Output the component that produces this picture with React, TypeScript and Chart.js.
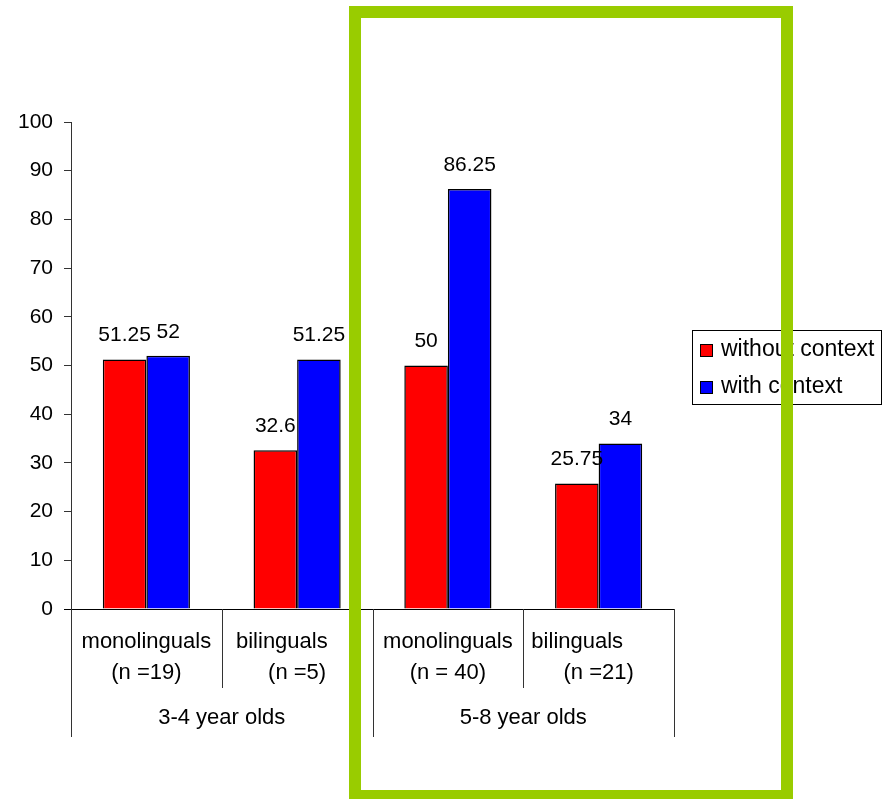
import React, { useEffect, useRef } from "react";
import { Chart, registerables } from "chart.js";

Chart.register(...registerables);

const categories: string[][] = [
  ["monolinguals", "(n =19)"],
  ["bilinguals     ", "(n =5)"],
  ["monolinguals", "(n = 40)"],
  ["bilinguals       ", "(n =21)"],
];
const groups = ["3-4 year olds", "5-8 year olds"];
const withoutContext = [51.25, 32.6, 50, 25.75];
const withContext = [52, 51.25, 86.25, 34];
const seriesNames = ["without context", "with context"];
const seriesColors = ["#FF0000", "#0000FF"];

const FONT = '"Liberation Sans", Arial, sans-serif';

const overlayPlugin = {
  id: "overlay",
  afterDraw(chart: any) {
    const ctx = chart.ctx;
    const { left, right, bottom } = chart.chartArea;
    const xs = chart.scales.x;
    ctx.save();
    // data labels
    ctx.fillStyle = "#000";
    ctx.font = `21px ${FONT}`;
    ctx.textAlign = "center";
    ctx.textBaseline = "middle";
    chart.data.datasets.forEach((ds: any, i: number) => {
      const meta = chart.getDatasetMeta(i);
      meta.data.forEach((bar: any, j: number) => {
        ctx.fillText(String(ds.data[j]), bar.x, bar.y - 24);
      });
    });
    // x axis line
    ctx.strokeStyle = "#000";
    ctx.lineWidth = 1;
    ctx.beginPath();
    ctx.moveTo(left - 7, Math.round(bottom) + 0.5);
    ctx.lineTo(right, Math.round(bottom) + 0.5);
    ctx.stroke();
    // dividers
    const n = categories.length;
    const w = (right - left) / n;
    ctx.strokeStyle = "#333";
    for (let i = 0; i <= n; i++) {
      const x = Math.round(left + i * w) + 0.5;
      const len = i % 2 === 0 ? 128 : 79;
      ctx.beginPath();
      ctx.moveTo(x, bottom);
      ctx.lineTo(x, bottom + len);
      ctx.stroke();
    }
    // category labels
    ctx.fillStyle = "#000";
    ctx.font = `22px ${FONT}`;
    categories.forEach((lines, j) => {
      const x = xs.getPixelForValue(j);
      lines.forEach((t, k) => {
        ctx.fillText(t, x, bottom + 33 + k * 31);
      });
    });
    // group labels
    groups.forEach((g, gi) => {
      const x = left + (gi * 2 + 1) * w;
      ctx.fillText(g, x, bottom + 109);
    });
    // legend
    const lx = 692, ly = 330, lw = 189, lh = 74;
    ctx.strokeStyle = "#000";
    ctx.strokeRect(lx + 0.5, ly + 0.5, lw, lh);
    ctx.textAlign = "left";
    ctx.font = `23px ${FONT}`;
    seriesNames.forEach((name, i) => {
      const cy = ly + 20 + i * 37;
      ctx.fillStyle = seriesColors[i];
      ctx.fillRect(lx + 8, cy - 6, 12, 12);
      ctx.strokeStyle = "#000";
      ctx.strokeRect(lx + 8.5, cy - 5.5, 12, 12);
      ctx.fillStyle = "#000";
      ctx.fillText(name, lx + 29, cy);
    });
    // green highlight rectangle
    ctx.fillStyle = "#99CC00";
    ctx.fillRect(349, 6, 12, 796);
    ctx.fillRect(781, 6, 12, 796);
    ctx.fillRect(349, 6, 444, 12);
    ctx.fillRect(349, 790, 444, 12);
    ctx.restore();
  },
};

export default function App() {
  const ref = useRef<HTMLCanvasElement | null>(null);
  useEffect(() => {
    if (!ref.current) return;
    const chart = new Chart(ref.current, {
      type: "bar",
      data: {
        labels: categories.map((c) => c.join(" ")),
        datasets: [
          {
            label: seriesNames[0],
            data: withoutContext,
            backgroundColor: seriesColors[0],
            borderColor: "#000",
            borderWidth: 1.5,
          },
          {
            label: seriesNames[1],
            data: withContext,
            backgroundColor: seriesColors[1],
            borderColor: "#000",
            borderWidth: 1.5,
          },
        ],
      },
      options: {
        responsive: false,
        animation: false,
        layout: { padding: { left: 0, top: 122, right: 215, bottom: 190 } },
        plugins: {
          legend: { display: false },
          tooltip: { enabled: false },
        },
        datasets: {
          bar: { categoryPercentage: 0.578, barPercentage: 1 },
        },
        scales: {
          x: { display: false },
          y: {
            min: 0,
            max: 100,
            ticks: {
              stepSize: 10,
              color: "#000",
              padding: 11,
              font: { family: FONT, size: 21 },
            },
            grid: {
              drawOnChartArea: false,
              tickLength: 7,
              tickColor: "#333",
            },
            border: { color: "#333" },
            afterFit: (scale: any) => {
              scale.width = 71;
            },
          },
        },
      },
      plugins: [overlayPlugin],
    });
    return () => chart.destroy();
  }, []);
  return (
    <div style={{ position: "absolute", left: 0, top: 0, width: 889, height: 799, background: "#fff" }}>
      <canvas ref={ref} width={889} height={799} style={{ display: "block" }} />
    </div>
  );
}
